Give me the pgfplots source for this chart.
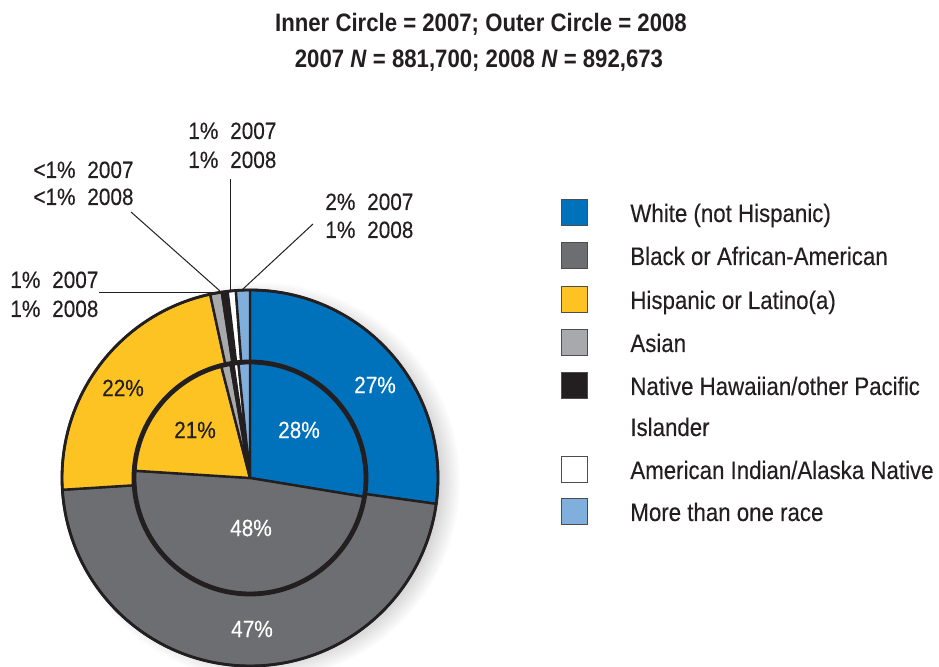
\documentclass[border=0pt]{standalone}
\usepackage{fontspec}
\setmainfont{Liberation Sans}[FakeStretch=0.88]
\newfontfamily\regfont{Liberation Sans}[FakeStretch=0.88, FakeBold=0.25]
\usepackage{pgfplots}
\pgfplotsset{compat=1.18}
\usetikzlibrary{shadows}

\definecolor{raceWhite}{RGB}{0,114,188}
\definecolor{raceBlack}{RGB}{109,110,113}
\definecolor{raceHisp}{RGB}{253,195,35}
\definecolor{raceAsian}{RGB}{167,169,172}
\definecolor{raceNHPI}{RGB}{35,31,32}
\definecolor{raceAIAN}{RGB}{255,255,255}
\definecolor{raceMulti}{RGB}{128,175,221}
\definecolor{inkDark}{RGB}{35,31,32}

% shares in percent, clockwise from 12 o'clock
\def\outerShares{27.2/raceWhite, 46.8/raceBlack, 22.6/raceHisp, 1.0/raceAsian, 0.5/raceNHPI, 0.7/raceAIAN, 1.2/raceMulti}% 2008
\def\innerShares{27.6/raceWhite, 48.4/raceBlack, 20.0/raceHisp, 1.3/raceAsian, 0.4/raceNHPI, 0.7/raceAIAN, 1.6/raceMulti}% 2007

% #1 radius, #2 list of share/colour
\newcommand\ring[2]{%
  \gdef\startang{90}%
  \foreach \v/\c in #2 {%
    \pgfmathsetmacro\stopang{\startang-3.6*\v}%
    \edef\temp{\noexpand\filldraw[fill=\c, draw=inkDark, line width=1.2pt, line join=round]
      (axis cs:250,189) -- ++(\startang:#1) arc[start angle=\startang, end angle=\stopang, radius=#1] -- cycle;}%
    \temp
    \global\let\startang\stopang
  }%
}

\newcommand\lbl{\regfont\fontsize{11.8}{14}\selectfont}
\newcommand\leg{\regfont\fontsize{12.65}{15}\selectfont}
\newcommand\ttl{\fontsize{12.6}{15}\selectfont\bfseries}

\begin{document}
\begin{tikzpicture}
\begin{axis}[
    width=469.5pt, height=333.5pt, scale only axis,
    xmin=0, xmax=939, ymin=0, ymax=667,
    hide axis, clip=false,
]
\path (axis cs:0,0) rectangle (axis cs:939,667);

% title
\node[anchor=base, font=\ttl, text=inkDark] at (axis cs:481,635) {Inner Circle = 2007; Outer Circle = 2008};
\node[anchor=base, font=\ttl, text=inkDark] at (axis cs:479,599) {2007 \textit{N} = 881,700; 2008 \textit{N} = 892,673};

% callout lines
\draw[inkDark, line width=0.5pt] (axis cs:230,488) -- (axis cs:230,375);
\draw[inkDark, line width=0.5pt] (axis cs:131,455) -- (axis cs:220,376);
\draw[inkDark, line width=0.5pt] (axis cs:313,443) -- (axis cs:243,378);
\draw[inkDark, line width=0.5pt] (axis cs:99,374) -- (axis cs:214,374);

% shadow
\path[circular drop shadow={shadow xshift=5pt, shadow yshift=-1.5pt, shadow scale=1.06, opacity=0.45}] (axis cs:250,189) circle[radius=188];

\ring{188}{\outerShares}
\draw[inkDark, line width=1.4pt] (axis cs:250,189) circle[radius=188];
\ring{116}{\innerShares}
\draw[inkDark, line width=2.4pt] (axis cs:250,189) circle[radius=116];

% slice labels
\node[font=\lbl, text=white] at (axis cs:375,282) {27\%};
\node[font=\lbl, text=white] at (axis cs:299,237) {28\%};
\node[font=\lbl, text=inkDark] at (axis cs:123,279) {22\%};
\node[font=\lbl, text=inkDark] at (axis cs:195,237) {21\%};
\node[font=\lbl, text=white] at (axis cs:251,139) {48\%};
\node[font=\lbl, text=white] at (axis cs:252,38) {47\%};

% callout labels
\node[anchor=base west, font=\lbl, text=inkDark, inner sep=0pt] at (axis cs:188,528) {1\%\enspace 2007};
\node[anchor=base west, font=\lbl, text=inkDark, inner sep=0pt] at (axis cs:188,499) {1\%\enspace 2008};
\node[anchor=base west, font=\lbl, text=inkDark, inner sep=0pt] at (axis cs:33,489) {<1\%\enspace 2007};
\node[anchor=base west, font=\lbl, text=inkDark, inner sep=0pt] at (axis cs:33,462) {<1\%\enspace 2008};
\node[anchor=base west, font=\lbl, text=inkDark, inner sep=0pt] at (axis cs:325,457) {2\%\enspace 2007};
\node[anchor=base west, font=\lbl, text=inkDark, inner sep=0pt] at (axis cs:325,429) {1\%\enspace 2008};
\node[anchor=base west, font=\lbl, text=inkDark, inner sep=0pt] at (axis cs:10,379) {1\%\enspace 2007};
\node[anchor=base west, font=\lbl, text=inkDark, inner sep=0pt] at (axis cs:10,350) {1\%\enspace 2008};

% legend
\draw[fill=raceWhite, draw=inkDark!80, line width=0.5pt] (axis cs:561,441) rectangle (axis cs:587,467);
\draw[fill=raceBlack, draw=inkDark!80, line width=0.5pt] (axis cs:561,398) rectangle (axis cs:587,424);
\draw[fill=raceHisp, draw=inkDark!80, line width=0.5pt] (axis cs:561,354) rectangle (axis cs:587,380);
\draw[fill=raceAsian, draw=inkDark!80, line width=0.5pt] (axis cs:561,311) rectangle (axis cs:587,337);
\draw[fill=raceNHPI, draw=inkDark!80, line width=0.5pt] (axis cs:561,268) rectangle (axis cs:587,294);
\draw[fill=raceAIAN, draw=inkDark!80, line width=0.5pt] (axis cs:561,184) rectangle (axis cs:587,210);
\draw[fill=raceMulti, draw=inkDark!80, line width=0.5pt] (axis cs:561,142) rectangle (axis cs:587,168);

\node[anchor=base west, font=\leg, text=inkDark, inner sep=0pt] at (axis cs:630,445) {White (not Hispanic)};
\node[anchor=base west, font=\leg, text=inkDark, inner sep=0pt] at (axis cs:630,402) {Black or African-American};
\node[anchor=base west, font=\leg, text=inkDark, inner sep=0pt] at (axis cs:630,358) {Hispanic or Latino(a)};
\node[anchor=base west, font=\leg, text=inkDark, inner sep=0pt] at (axis cs:630,315) {Asian};
\node[anchor=base west, font=\leg, text=inkDark, inner sep=0pt] at (axis cs:630,272) {Native Hawaiian/other Pacific};
\node[anchor=base west, font=\leg, text=inkDark, inner sep=0pt] at (axis cs:630,231) {Islander};
\node[anchor=base west, font=\leg, text=inkDark, inner sep=0pt] at (axis cs:630,188) {American Indian/Alaska Native};
\node[anchor=base west, font=\leg, text=inkDark, inner sep=0pt] at (axis cs:630,146) {More than one race};
\end{axis}
\pgfresetboundingbox
\path (current axis.south west) rectangle (current axis.north east);
\end{tikzpicture}
\end{document}
